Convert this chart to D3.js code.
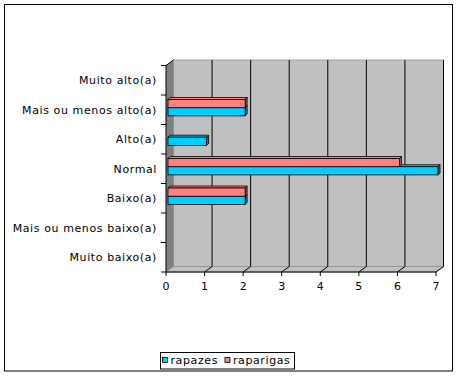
<!DOCTYPE html>
<html><head><meta charset="utf-8">
<script src="https://cdn.jsdelivr.net/npm/d3@7"></script>
<style>body{margin:0;background:#fff}svg{display:block}</style>
</head><body>
<script>
const categories = ["Muito alto(a)","Mais ou menos alto(a)","Alto(a)","Normal","Baixo(a)","Mais ou menos baixo(a)","Muito baixo(a)"];
const rapazes =   [0, 2, 1, 7, 2, 0, 0];
const raparigas = [0, 2, 0, 6, 2, 0, 0];
const xTicks = [0,1,2,3,4,5,6,7];
const seriesNames = ["rapazes","raparigas"];
const colors = {rapazes:"#00ccff", raparigas:"#ff8080"};
const sideColors = {rapazes:"#0088aa", raparigas:"#aa5555"};

const W=457,H=376;
const svg=d3.select("body").append("svg").attr("width",W).attr("height",H);
const font="DejaVu Sans, Verdana, sans-serif";
const ls="0.6px";

svg.append("rect").attr("x",4.5).attr("y",4.5).attr("width",448).attr("height",366.5)
  .attr("fill","#fff").attr("stroke","#000").attr("stroke-width",1);

const x=d3.scaleLinear().domain([0,7]).range([166,436]);
const y=d3.scaleBand().domain(categories).range([65.5,272]).paddingInner(0).paddingOuter(0);
const DX=7.5, DY=-5.5;
const y0=y.range()[0], y1=y.range()[1];

// back wall
svg.append("rect").attr("x",x(0)+DX).attr("y",y0+DY).attr("width",x(7)-x(0)).attr("height",y1-y0)
  .attr("fill","#c0c0c0").attr("stroke","#a0a0a0").attr("stroke-width",1);
// left wall
svg.append("polygon").attr("points",[[x(0),y0],[x(0)+DX,y0+DY],[x(0)+DX,y1+DY],[x(0),y1]].join(" "))
  .attr("fill","#808080");
// floor
svg.append("polygon").attr("points",[[x(0),y1],[x(0)+DX,y1+DY],[x(7)+DX,y1+DY],[x(7),y1]].join(" "))
  .attr("fill","#c0c0c0").attr("stroke","#909090").attr("stroke-width",0.8);

// gridlines
xTicks.filter(v=>v>0).forEach(v=>{
  svg.append("line").attr("x1",x(v)+DX).attr("x2",x(v)+DX).attr("y1",y0+DY).attr("y2",y1+DY)
    .attr("stroke","#000").attr("stroke-width",1);
  svg.append("line").attr("x1",x(v)).attr("x2",x(v)+DX).attr("y1",y1).attr("y2",y1+DY)
    .attr("stroke","#000").attr("stroke-width",1);
});
// left wall top edge
svg.append("line").attr("x1",x(0)).attr("y1",y0).attr("x2",x(0)+DX).attr("y2",y0+DY).attr("stroke","#000");

// bars
const bh=8.2, bd=2, bx=2;
const barG=svg.append("g");
categories.forEach((c,i)=>{
  const vals=[["rapazes",rapazes[i],1],["raparigas",raparigas[i],0]];
  vals.forEach(([name,v,slot])=>{
    if(v<=0) return;
    const top=y(c)+4.5+slot*bh;
    const xa=x(0)+bx, xb=x(v)+bx;
    barG.append("polygon").attr("points",[[xa,top],[xa+bd,top-bd],[xb+bd,top-bd],[xb,top]].join(" "))
      .attr("fill",colors[name]).attr("stroke","#000").attr("stroke-width",0.8);
    barG.append("polygon").attr("points",[[xb,top],[xb+bd,top-bd],[xb+bd,top+bh-bd],[xb,top+bh]].join(" "))
      .attr("fill",sideColors[name]).attr("stroke","#000").attr("stroke-width",0.8);
    barG.append("rect").attr("x",xa).attr("y",top).attr("width",xb-xa).attr("height",bh)
      .attr("fill",colors[name]).attr("stroke","#000").attr("stroke-width",0.8);
  });
});

// y axis
const yAxis=svg.append("g");
yAxis.append("line").attr("x1",x(0)).attr("x2",x(0)).attr("y1",y0).attr("y2",y1).attr("stroke","#000");
d3.range(categories.length+1).forEach(i=>{
  const yy=y0+i*y.step();
  yAxis.append("line").attr("x1",x(0)-5).attr("x2",x(0)).attr("y1",yy).attr("y2",yy).attr("stroke","#000");
});
categories.forEach(c=>{
  yAxis.append("text").attr("x",157).attr("y",y(c)+y.bandwidth()/2).attr("dy","0.35em")
    .attr("text-anchor","end").attr("font-family",font).attr("font-size",11).attr("letter-spacing",ls)
    .attr("fill","#000").text(c);
});
// x axis
const xAxis=svg.append("g");
xAxis.append("line").attr("x1",x(0)).attr("x2",x(7)).attr("y1",y1).attr("y2",y1).attr("stroke","#000");
xTicks.forEach(v=>{
  xAxis.append("line").attr("x1",x(v)).attr("x2",x(v)).attr("y1",y1).attr("y2",y1+4).attr("stroke","#000");
  xAxis.append("text").attr("x",x(v)).attr("y",286).attr("dy","0.35em").attr("text-anchor","middle")
    .attr("font-family",font).attr("font-size",11).attr("fill","#000").text(v);
});

// legend
const lg=svg.append("g");
lg.append("rect").attr("x",160.5).attr("y",352.5).attr("width",134).attr("height",16.5)
  .attr("fill","#fff").attr("stroke","#000");
let lx=162.5;
seriesNames.forEach(n=>{
  lg.append("rect").attr("x",lx).attr("y",357.5).attr("width",5).attr("height",5)
    .attr("fill",colors[n]).attr("stroke","#000").attr("stroke-width",0.8);
  const t=lg.append("text").attr("x",lx+8).attr("y",360.5).attr("dy","0.35em")
    .attr("font-family",font).attr("font-size",11).attr("letter-spacing",ls).attr("fill","#000").text(n);
  lx += 8 + t.node().getComputedTextLength() + 7;
});
</script>
</body></html>
